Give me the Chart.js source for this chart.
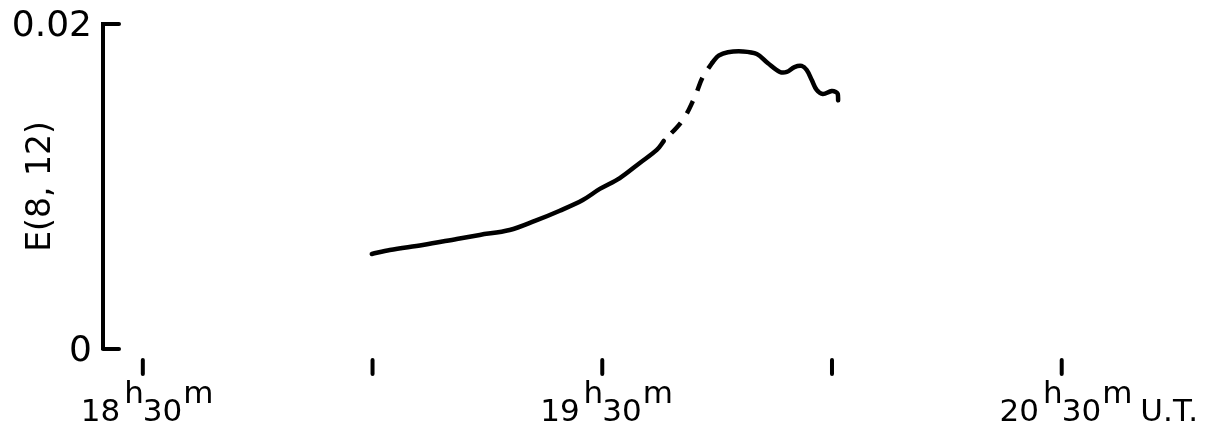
<!DOCTYPE html>
<html><head><meta charset="utf-8">
<script src="https://cdn.jsdelivr.net/npm/chart.js@4"></script>
<style>html,body{margin:0;padding:0;background:#fff}#wrap{width:1220px;height:433px;position:relative}</style>
</head><body><div id="wrap"><canvas id="c"></canvas></div>
<script>
// time in minutes after 18h30m U.T.
const timeTicks = [0, 30, 60, 90, 120];
const labelHours = ['18', null, '19', null, '20'];
const labelMinutes = ['30', null, '30', null, '30'];
const labelSuffix = ['', '', '', '', 'U.T.'];
const yTicks = [0, 0.02];
const yTickLabels = ['0', '0.02'];
const yTitle = 'E(8, 12)';

// solid part before the gap
const solidA_t = [29.9, 32.25, 36.56, 41.0, 44.0, 47.9, 51.2, 54.45, 57.46, 59.68, 62.29, 64.9, 67.12, 68.03];
const solidA_v = [0.00585, 0.00609, 0.0064, 0.00677, 0.00702, 0.00732, 0.00788, 0.00851, 0.00917, 0.00985, 0.01052, 0.01145, 0.01225, 0.0128];
// dashed part
const dash_t = [68.03, 70.51, 72.08, 73.13, 74.43];
const dash_v = [0.0128, 0.01409, 0.01551, 0.01674, 0.01766];
// solid part after the gap
const solidB_t = [74.43, 75.2, 76.4, 78.35, 80.18, 81.6, 83.2, 84.1, 85.1, 86.05, 86.7, 87.36, 88.0, 88.8, 89.97, 90.5, 90.75, 90.8];
const solidB_v = [0.01766, 0.01805, 0.01826, 0.01831, 0.01815, 0.0176, 0.01705, 0.01705, 0.01735, 0.01742, 0.01717, 0.01655, 0.01594, 0.01569, 0.01588, 0.01582, 0.0157, 0.0153];

const pts = (t, v) => t.map((x, i) => ({x, y: v[i]}));
const FONT = '"DejaVu Sans", "Liberation Sans", sans-serif';

const decor = {
  id: 'decor',
  afterDraw(chart) {
    const ctx = chart.ctx, xs = chart.scales.x, ys = chart.scales.y;
    const ax = chart.chartArea.left;
    ctx.save();
    ctx.strokeStyle = '#000'; ctx.fillStyle = '#000';
    ctx.lineWidth = 4; ctx.lineCap = 'round';
    yTicks.forEach(v => {
      const y = ys.getPixelForValue(v);
      ctx.beginPath(); ctx.moveTo(ax, y); ctx.lineTo(ax + 16, y); ctx.stroke();
    });
    const y0 = ys.getPixelForValue(0);
    ctx.font = '31px ' + FONT;
    ctx.textBaseline = 'alphabetic';
    timeTicks.forEach((v, i) => {
      const x = xs.getPixelForValue(v);
      ctx.beginPath(); ctx.moveTo(x, y0 + 11); ctx.lineTo(x, y0 + 25); ctx.stroke();
      if (labelHours[i]) {
        const base = y0 + 72, sup = y0 + 54;
        const wh = ctx.measureText('h').width;
        ctx.textAlign = 'right';
        ctx.fillText('h', x + 1, sup);
        ctx.fillText(labelHours[i], x - 3 - wh, base);
        ctx.textAlign = 'left';
        ctx.fillText(labelMinutes[i], x, base);
        const wm = ctx.measureText(labelMinutes[i]).width;
        ctx.fillText('m', x + wm + 1, sup);
        if (labelSuffix[i]) {
          const wmm = ctx.measureText('m').width;
          ctx.fillText(labelSuffix[i], x + wm + wmm + 9, base);
        }
      }
    });
    ctx.restore();
  }
};

const lineStyle = {borderColor: '#000', borderWidth: 4.5, pointRadius: 0, tension: 0.35, fill: false, borderCapStyle: 'round', borderJoinStyle: 'round'};

new Chart(document.getElementById('c'), {
  type: 'line',
  data: {
    datasets: [
      Object.assign({data: pts(solidA_t, solidA_v)}, lineStyle),
      Object.assign({data: pts(dash_t, dash_v)}, lineStyle, {borderDash: [14, 11], borderDashOffset: 14, borderCapStyle: 'butt'}),
      Object.assign({data: pts(solidB_t, solidB_v)}, lineStyle)
    ]
  },
  options: {
    responsive: true, maintainAspectRatio: false, animation: false,
    layout: {padding: {left: 0, top: 24, right: 120, bottom: 84}},
    plugins: {legend: {display: false}, tooltip: {enabled: false}},
    scales: {
      x: {
        type: 'linear', min: -5.2, max: 125, display: false,
        afterBuildTicks: s => { s.ticks = timeTicks.map(v => ({value: v})); }
      },
      y: {
        type: 'linear', min: 0, max: 0.02,
        afterBuildTicks: s => { s.ticks = yTicks.map(v => ({value: v})); },
        afterFit: s => { s.width = 103; s.paddingTop = 0; s.paddingBottom = 0; },
        grid: {display: false, drawTicks: false},
        border: {display: true, color: '#000', width: 4},
        ticks: {
          color: '#000', padding: 11, labelOffset: 3, font: {family: FONT, size: 36},
          callback: (v) => { const i = yTicks.indexOf(v); return i >= 0 ? yTickLabels[i] : ''; }
        },
        title: {display: true, text: yTitle, color: '#000', font: {family: FONT, size: 33}, padding: {top: 22, bottom: 0}}
      }
    }
  },
  plugins: [decor]
});
</script>
</body></html>
